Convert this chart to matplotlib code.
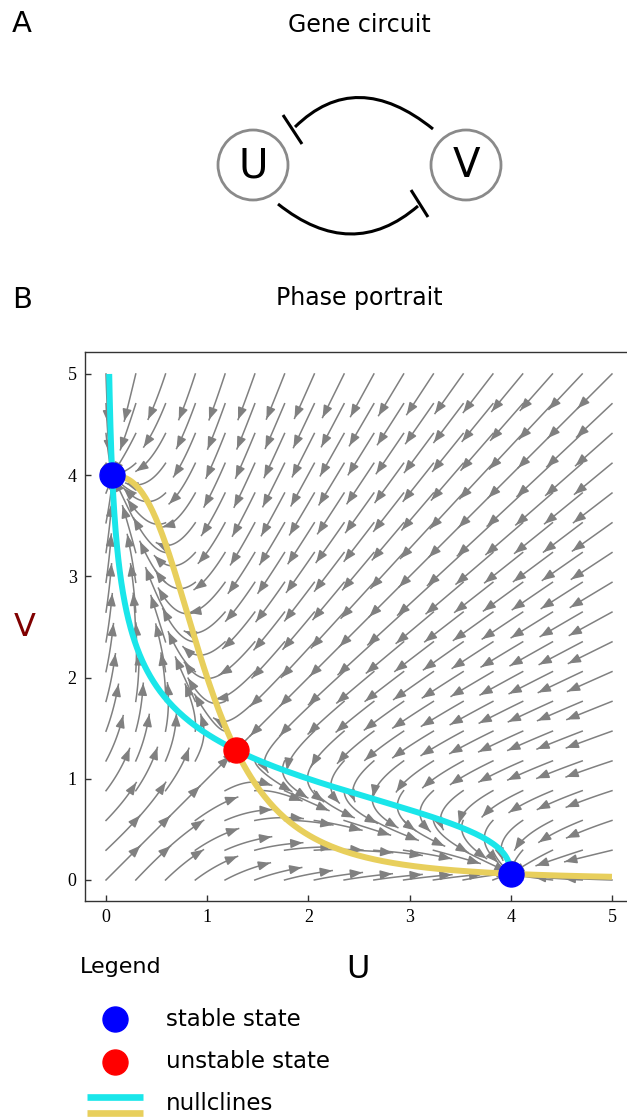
import numpy as np
import matplotlib.pyplot as plt
from matplotlib.path import Path
from matplotlib.patches import PathPatch, Circle

# toggle switch model: du/dt = alpha/(1+v^n) - u, dv/dt = alpha/(1+u^n) - v
alpha = 4.0
hill_n = 3.0

stable_u = [0.062, 3.998]
stable_v = [3.998, 0.062]
unstable_u = [1.283]
unstable_v = [1.283]

ticks = [0, 1, 2, 3, 4, 5]
legend_labels = ["stable state", "unstable state", "nullclines"]

CYAN = "#1ae6ea"
YELLOW = "#e8cf5c"
GRAY = "#808080"


def field(u, v):
    du = alpha / (1 + v ** hill_n) - u
    dv = alpha / (1 + u ** hill_n) - v
    s = np.hypot(du, dv) + 1e-12
    return du / s, dv / s


def trace(u, v, length=0.48, ds=0.01):
    us, vs = [u], [v]
    for _ in range(int(length / ds)):
        a, b = field(u, v)
        a2, b2 = field(u + a * ds / 2, v + b * ds / 2)
        u, v = u + a2 * ds, v + b2 * ds
        if not (0 <= u <= 5 and 0 <= v <= 5):
            break
        us.append(u)
        vs.append(v)
    return np.array(us), np.array(vs)


fig = plt.figure(figsize=(6.27, 11.17), dpi=100)

# overlay in pixel coordinates for the diagram, titles and legend
ov = fig.add_axes([0, 0, 1, 1])
ov.set_xlim(0, 627)
ov.set_ylim(1117, 0)
ov.axis("off")

ov.text(22, 24, "A", fontsize=21, ha="center", va="center")
ov.text(359, 25, "Gene circuit", fontsize=17, ha="center", va="center")
ov.text(22, 300, "B", fontsize=21, ha="center", va="center")
ov.text(359, 298, "Phase portrait", fontsize=17, ha="center", va="center")

# gene circuit
for cx, name in [(253, "U"), (466, "V")]:
    ov.add_patch(Circle((cx, 165), 35, fill=False, ec="#8a8a8a", lw=2))
    ov.text(cx, 166, name, fontsize=29, ha="center", va="center")

arcs = [
    [(433, 129), (356, 67), (295, 127)],
    [(278, 204), (352, 263), (418, 206)],
]
for pts in arcs:
    ov.add_patch(PathPatch(Path(pts, [Path.MOVETO, Path.CURVE3, Path.CURVE3]),
                           fill=False, lw=2.2, ec="black"))
ov.plot([283, 302], [115, 144], color="black", lw=2.2, solid_capstyle="butt")
ov.plot([411, 428], [190, 217], color="black", lw=2.2, solid_capstyle="butt")

# phase portrait
ax = fig.add_axes([85 / 627, 1 - 901 / 1117, 555 / 627, 549 / 1117])
ax.set_xlim(-0.2075, 5.277)
ax.set_ylim(-0.2075, 5.217)

seeds = np.linspace(0, 5, 18)
for su in seeds:
    for sv in seeds:
        lu, lv = trace(su, sv)
        if len(lu) < 6:
            continue
        ax.plot(lu, lv, color=GRAY, lw=1.1, zorder=1)
        ax.annotate("", xy=(lu[-1], lv[-1]), xytext=(lu[-5], lv[-5]),
                    arrowprops=dict(arrowstyle="-|>,head_length=0.7,head_width=0.27",
                                    color=GRAY, lw=1.1, shrinkA=0, shrinkB=0),
                    zorder=1)

v_line = np.linspace(stable_v[1], 5, 300)
ax.plot(alpha / (1 + v_line ** hill_n), v_line, color=CYAN, lw=4.3, zorder=3,
        solid_capstyle="butt")
u_line = np.linspace(stable_u[0], 5, 300)
ax.plot(u_line, alpha / (1 + u_line ** hill_n), color=YELLOW, lw=4.3, zorder=4,
        solid_capstyle="butt")

ax.plot(stable_u, stable_v, "o", color="blue", ms=18, zorder=5)
ax.plot(unstable_u, unstable_v, "o", color="red", ms=18, zorder=5)

ax.set_xticks(ticks)
ax.set_yticks(ticks)
ax.tick_params(direction="in", length=4.5, width=1, colors="#333333",
               labelsize=13, pad=6)
for lab in ax.get_xticklabels() + ax.get_yticklabels():
    lab.set_family("Liberation Serif")
    lab.set_color("black")
for sp in ax.spines.values():
    sp.set_color("#333333")
    sp.set_linewidth(1)

ov.set_zorder(0)
ax.set_zorder(1)

ov.text(25, 627, "V", fontsize=23, color="#800000", ha="center", va="center")
ov.text(358, 970, "U", fontsize=23, ha="center", va="center")

# legend
ov.text(80, 967, "Legend", fontsize=16, ha="left", va="center")
ov.plot([115], [1019], "o", color="blue", ms=18)
ov.plot([115], [1062], "o", color="red", ms=18)
ov.plot([87, 143], [1097, 1097], color=CYAN, lw=4.8, solid_capstyle="butt")
ov.plot([87, 143], [1113, 1113], color=YELLOW, lw=4.8, solid_capstyle="butt")
ov.text(166, 1019, legend_labels[0], fontsize=16.5, ha="left", va="center")
ov.text(166, 1062, legend_labels[1], fontsize=16.5, ha="left", va="center")
ov.text(166, 1103, legend_labels[2], fontsize=16.5, ha="left", va="center")

fig.savefig("out.png", dpi=100)
